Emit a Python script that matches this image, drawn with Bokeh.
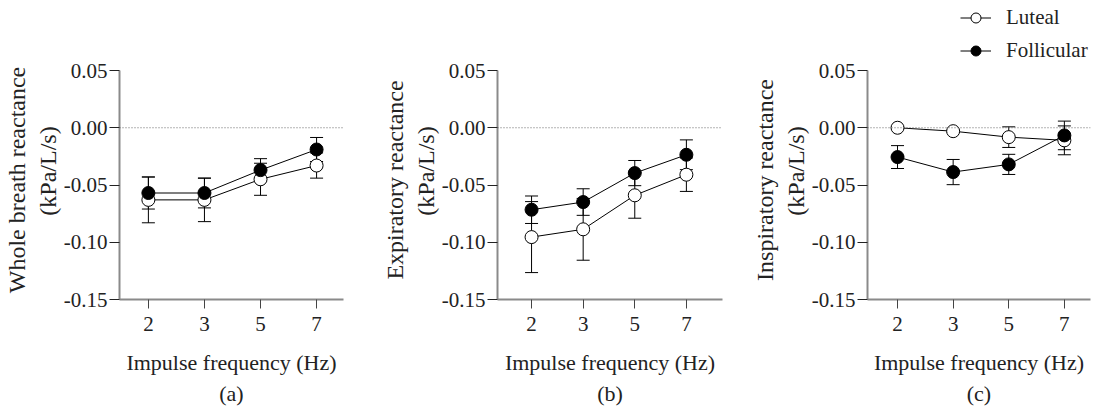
from bokeh.plotting import figure
from bokeh.layouts import row
from bokeh.models import (FixedTicker, Whisker, ColumnDataSource, Span,
                          Legend, LegendItem, Range1d)
from bokeh.embed import file_html
from bokeh.resources import INLINE

# ---------------- data ----------------
freq_labels = ["2", "3", "5", "7"]
y_ticks = [0.05, 0.0, -0.05, -0.10, -0.15]
y_tick_labels = ["0.05", "0.00", "-0.05", "-0.10", "-0.15"]
series_names = ["Luteal", "Follicular"]

whole_luteal = [-0.063, -0.063, -0.045, -0.033]
whole_luteal_err = [0.020, 0.019, 0.014, 0.011]
whole_foll = [-0.057, -0.057, -0.037, -0.019]
whole_foll_err = [0.014, 0.013, 0.010, 0.0105]

exp_luteal = [-0.0955, -0.0887, -0.059, -0.041]
exp_luteal_err = [0.031, 0.027, 0.020, 0.0146]
exp_foll = [-0.0716, -0.0649, -0.0396, -0.0236]
exp_foll_err = [0.012, 0.0116, 0.011, 0.013]

insp_luteal = [0.000, -0.003, -0.0082, -0.011]
insp_luteal_err = [0.001, 0.001, 0.009, 0.0126]
insp_foll = [-0.0256, -0.0387, -0.032, -0.0067]
insp_foll_err = [0.010, 0.011, 0.0088, 0.0125]

FONT = "Liberation Serif"
AXIS_GREY = "#8a8a8a"
TXT = "#222222"
NBSP = "\u00a0"

# vertical layout (pixels): axis spans 229 px, 70 px of headroom above it
AXIS_PX = 229
TOP_PX = 70
Y_LO, Y_HI = y_ticks[-1], y_ticks[0]
Y_TOP = Y_HI + TOP_PX / AXIS_PX * (Y_HI - Y_LO)


def make_panel(ylabel, luteal, lerr, foll, ferr, xr, left, right, width, letter,
               legend=False):
    xs = list(range(len(freq_labels)))
    # frame reaches the top of the canvas (room for the legend above the axis);
    # the y label is nudged down to stay centred on the visible axis
    pads = [10, 7]
    ylabel = "\n".join(part + NBSP * n for part, n in zip(ylabel.split("\n"), pads))
    p = figure(width=width, height=410, x_range=Range1d(*xr),
               y_range=Range1d(Y_LO, Y_TOP),
               min_border_left=left, min_border_right=right,
               min_border_top=0, min_border_bottom=111,
               output_backend="svg", toolbar_location=None)
    p.outline_line_color = None
    p.xgrid.visible = False
    p.ygrid.visible = False

    # axes
    p.xaxis.ticker = FixedTicker(ticks=xs)
    p.xaxis.major_label_overrides = {i: lab for i, lab in zip(xs, freq_labels)}
    p.yaxis.ticker = FixedTicker(ticks=y_ticks)
    p.yaxis.major_label_overrides = {t: l for t, l in zip(y_ticks, y_tick_labels)}
    p.yaxis.bounds = (Y_LO, Y_HI)
    for ax in (p.xaxis[0], p.yaxis[0]):
        ax.axis_line_color = AXIS_GREY
        ax.axis_line_width = 2
        ax.minor_tick_line_color = None
        ax.major_tick_in = 0
        ax.major_label_text_font = FONT
        ax.major_label_text_font_size = "21px"
        ax.major_label_text_color = TXT
        ax.axis_label_text_font = FONT
        ax.axis_label_text_font_style = "normal"
        ax.axis_label_text_color = TXT
    p.xaxis.axis_label_text_font_size = "22px"
    p.xaxis.axis_label_text_line_height = 1.25
    p.yaxis.axis_label_text_font_size = "24px"
    p.yaxis.axis_label_text_line_height = 1.2
    p.xaxis.major_tick_line_color = "#444444"
    p.xaxis.major_tick_out = 9
    p.yaxis.major_tick_line_color = "#222222"
    p.yaxis.major_tick_out = 10
    p.xaxis.major_label_standoff = 8
    p.yaxis.major_label_standoff = 2
    p.xaxis.axis_label = "Impulse frequency (Hz)\n" + letter
    p.xaxis.axis_label_standoff = 16
    p.yaxis.axis_label = ylabel
    p.yaxis.axis_label_standoff = 0

    # zero reference line
    p.add_layout(Span(location=0, dimension="width", line_color="#666666",
                      line_width=1, line_dash="1 2"))

    src_l = ColumnDataSource(dict(x=xs, y=luteal,
                                  lo=[v - e for v, e in zip(luteal, lerr)],
                                  hi=[v + e for v, e in zip(luteal, lerr)]))
    src_f = ColumnDataSource(dict(x=xs, y=foll,
                                  lo=[v - e for v, e in zip(foll, ferr)],
                                  hi=[v + e for v, e in zip(foll, ferr)]))

    ll = p.line("x", "y", source=src_l, line_color="black", line_width=1)
    lf = p.line("x", "y", source=src_f, line_color="black", line_width=1)
    for src in (src_l, src_f):
        w = Whisker(source=src, base="x", lower="lo", upper="hi",
                    line_color="black", line_width=1)
        for h in (w.upper_head, w.lower_head):
            h.size = 13
            h.line_color = "black"
            h.line_width = 1
        p.add_layout(w)
    ml = p.scatter("x", "y", source=src_l, size=13, fill_color="white",
                   line_color="black", line_width=1)
    mf = p.scatter("x", "y", source=src_f, size=13, fill_color="black",
                   line_color="black", line_width=1)

    if legend:
        leg = Legend(items=[LegendItem(label=series_names[0], renderers=[ll, ml]),
                            LegendItem(label=series_names[1], renderers=[lf, mf])],
                     location=(93, 236), orientation="vertical",
                     glyph_width=31, glyph_height=25, label_height=25,
                     label_standoff=15, spacing=8, padding=0, margin=0,
                     border_line_color=None, background_fill_alpha=0,
                     label_text_font=FONT, label_text_font_size="21px",
                     label_text_color=TXT)
        p.add_layout(leg)
    return p


pa = make_panel("Whole breath reactance\n(kPa/L/s)", whole_luteal, whole_luteal_err,
                whole_foll, whole_foll_err, (-0.515, 3.48), 118, 27, 370, "(a)")
pb = make_panel("Expiratory reactance\n(kPa/L/s)", exp_luteal, exp_luteal_err,
                exp_foll, exp_foll_err, (-0.66, 3.70), 127, 18, 370, "(b)")
pc = make_panel("Inspiratory reactance\n(kPa/L/s)", insp_luteal, insp_luteal_err,
                insp_foll, insp_foll_err, (-0.54, 3.47), 127, 16, 366, "(c)",
                legend=True)

layout = row(pa, pb, pc, spacing=0)
open("out.html", "w").write(file_html(layout, INLINE))
